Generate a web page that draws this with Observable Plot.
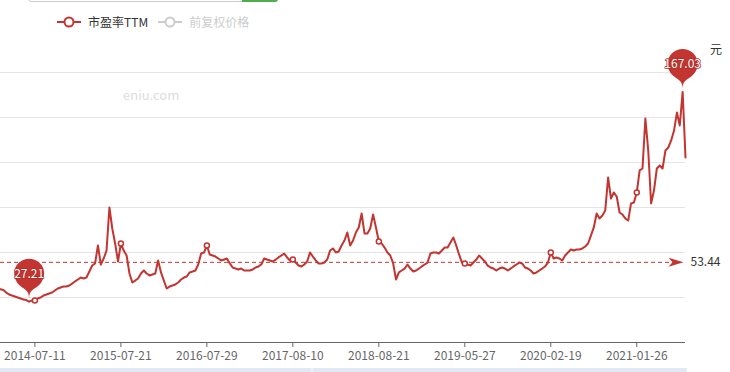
<!DOCTYPE html>
<html>
<head>
<meta charset="utf-8">
<script src="https://cdn.jsdelivr.net/npm/d3@7"></script>
<script src="https://cdn.jsdelivr.net/npm/@observablehq/plot@0.6"></script>
<style>
  body { margin: 0; background: #fff; font-family: "Microsoft YaHei", "Noto Sans CJK SC", "Noto Sans", sans-serif; }
  #wrap { position: relative; width: 730px; height: 372px; overflow: hidden; }
  #wrap > svg { position: absolute; left: 0; top: 0; overflow: visible; }
  .legend { position: absolute; left: 57px; top: 15px; height: 14px; display: flex; align-items: center; font-size: 12px; }
  .legend .item { display: flex; align-items: center; margin-right: 10px; }
  .legend .item svg { display: block; flex: none; }
  .legend .item span { margin-left: 7px; line-height: 14px; white-space: nowrap; }
  .topbox { position: absolute; left: 28px; top: -10px; width: 248px; height: 10px; border: 1px solid #ccc; border-radius: 3px; }
  .topbox .sel { position: absolute; right: -1px; top: -1px; width: 36px; height: 12px; background: #4cae4c; border-radius: 0 3px 3px 0; }
  .watermark { position: absolute; left: 123px; top: 85px; font-size: 13px; color: #ddd; }
  .unit { position: absolute; left: 710px; top: 40px; font-size: 12px; color: #333; }
  .slider { position: absolute; left: 0; top: 368px; width: 687px; height: 6px; background: #e2e8f4; }
  .slider .cut { position: absolute; left: 311px; top: 0; width: 2px; height: 6px; background: #eef2f9; }
</style>
</head>
<body>
<div id="wrap"></div>
<script>
// ---- data ----
const seriesNames = ["市盈率TTM", "前复权价格"];
const tickLabels = ["2014-07-11", "2015-07-21", "2016-07-29", "2017-08-10", "2018-08-21", "2019-05-27", "2020-02-19", "2021-01-26"];
const tickIndex = [12, 42, 72, 102, 132, 162, 192, 222];
const averagePE = [53.44];
const unitLabel = "元";
const watermarkText = "eniu.com";
const peValues = [
  35.5, 35, 33.3, 32, 31.3, 30.7, 30, 29.3, 28.7, 28.3,
  27.21, 28, 28, 29.3, 30, 31.3, 32, 32.7, 33.3, 34.7,
  36, 36.7, 37.3, 37.3, 38, 39.3, 40.7, 42, 43.3, 42.7,
  43.3, 47.3, 51.3, 52.7, 64.7, 52, 56, 61.3, 90, 76,
  66, 54, 66, 61.3, 58, 46, 40, 41.3, 42.7, 46,
  48, 46, 44.7, 45.3, 46, 54.7, 46.7, 41.3, 36, 37.3,
  38, 38.7, 40, 42, 43.3, 44, 46.7, 47.3, 48, 52,
  59.3, 60, 64.7, 58.7, 58, 57.3, 56, 54.7, 55.3, 56,
  52.7, 50, 49.3, 48.7, 49.3, 48, 48, 48, 48.7, 50,
  50.7, 52, 56, 55.3, 54.7, 54, 55.3, 56.7, 58, 59.3,
  56.7, 54.7, 55.3, 53.3, 51.3, 50.7, 52, 54, 60, 57.3,
  54.7, 52.7, 52.7, 53.3, 55.3, 61.3, 62.7, 60, 60.7, 64.7,
  68, 73.3, 64.7, 68, 73.3, 76.7, 86, 72.7, 72.7, 76,
  85.3, 76.7, 67.3, 66, 63.3, 60, 58, 52.7, 42, 46.7,
  48, 49.3, 52, 49.3, 47.3, 48, 49.3, 50.7, 52, 53.3,
  59.3, 60, 60, 59.3, 61.3, 63.3, 63.3, 66.7, 70, 64.7,
  58.7, 53.3, 52.7, 52, 51.3, 53.3, 55.3, 58, 56, 54,
  51.3, 50, 49.3, 48, 49.3, 50, 49.3, 48, 49.3, 50.7,
  52, 53.3, 52.7, 50, 49.3, 48, 46, 46.7, 48, 49.3,
  50.7, 53.3, 60, 56, 56.7, 56, 54.7, 58, 60, 62,
  61.3, 62, 62, 62.7, 64, 66, 71.3, 76.7, 86, 82.7,
  84.7, 88, 110, 96, 100, 97.3, 86.7, 85.3, 82.7, 81.3,
  92.7, 93.3, 100, 114.7, 116, 149.3, 128, 92.7, 101.3, 116,
  118, 116, 128, 130, 134.7, 141.3, 153.3, 144.7, 167.03, 123.3
];
const yGridTicks = [30, 60, 90, 120, 150, 180];

// ---- chart ----
const red = "#c23531";
const fontFamily = '"Microsoft YaHei", "Noto Sans CJK SC", "Noto Sans", sans-serif';
const data = peValues.map((v, i) => ({ i, v }));
const lastIdx = peValues.length - 1;
const extremes = [d3.minIndex(peValues), d3.maxIndex(peValues)];
const labelOf = new Map(tickIndex.map((d, k) => [d, tickLabels[k]]));

// ECharts-like "pin" balloon, tip just above the data point
const pinSymbol = {
  draw(ctx) {
    const r = 15, d = 25, tip = -3;
    const cy = tip - d;
    const dy = r * r / d;
    const a = Math.asin(dy / r);
    const dx = Math.cos(a) * r;
    const tx = Math.sin(a), ty = Math.cos(a);
    const c1 = r * 0.6, c2 = r * 0.7;
    ctx.moveTo(-dx, cy + dy);
    ctx.arc(0, cy, r, Math.PI - a, Math.PI * 2 + a);
    ctx.bezierCurveTo(dx - tx * c1, cy + dy + ty * c1, 0, tip - c2, 0, tip);
    ctx.bezierCurveTo(0, tip - c2, -dx + tx * c1, cy + dy + ty * c1, -dx, cy + dy);
    ctx.closePath();
  }
};
const arrowSymbol = {
  draw(ctx) {
    ctx.moveTo(0, 0);
    ctx.lineTo(-15, -4.5);
    ctx.lineTo(-11, 0);
    ctx.lineTo(-15, 4.5);
    ctx.closePath();
  }
};

const chart = Plot.plot({
  width: 730,
  height: 372,
  marginLeft: 0,
  marginRight: 45,
  marginTop: 72,
  marginBottom: 30,
  style: { fontFamily, fontSize: "12px", background: "transparent", overflow: "visible" },
  x: { domain: [0, lastIdx], axis: null },
  y: { domain: [0, 180], axis: null },
  marks: [
    Plot.ruleY(yGridTicks, { stroke: "#e4e4e4", strokeWidth: 1 }),
    Plot.ruleY([0], { stroke: "#666", strokeWidth: 1 }),
    Plot.axisX({
      ticks: tickIndex,
      tickFormat: d => labelOf.get(d),
      tickSize: 5,
      tickPadding: 4,
      color: "#666",
      fontSize: 12,
      fontFamily,
      label: null
    }),
    Plot.ruleY(averagePE, { x1: 0, x2: lastIdx - 3, stroke: red, strokeWidth: 1, strokeDasharray: "4,3" }),
    Plot.dot(averagePE, { x: () => lastIdx, y: d => d, dx: -2, symbol: arrowSymbol, fill: red, stroke: null }),
    Plot.text(averagePE, { x: () => lastIdx, y: d => d, text: d => d.toFixed(2), dx: 5, textAnchor: "start", fill: "#333", fontSize: 12, fontFamily }),
    Plot.line(data, { x: "i", y: "v", stroke: red, strokeWidth: 2, strokeLinejoin: "round" }),
    Plot.dot(tickIndex, { x: d => d, y: d => peValues[d], r: 2.5, fill: "white", stroke: red, strokeWidth: 1.5 }),
    Plot.dot(extremes, { x: d => d, y: d => peValues[d], symbol: pinSymbol, fill: red, stroke: null }),
    Plot.text(extremes, { x: d => d, y: d => peValues[d], text: d => peValues[d].toFixed(2), dy: -28, fill: "white", stroke: "#a82d29", strokeWidth: 1.5, fontSize: 12, fontFamily })
  ]
});

const wrap = document.getElementById("wrap");
wrap.appendChild(chart);

// decorations
const topbox = document.createElement("div");
topbox.className = "topbox";
topbox.innerHTML = '<div class="sel"></div>';
wrap.appendChild(topbox);

const wm = document.createElement("div");
wm.className = "watermark";
wm.textContent = watermarkText;
wrap.appendChild(wm);

const unit = document.createElement("div");
unit.className = "unit";
unit.textContent = unitLabel;
wrap.appendChild(unit);

const slider = document.createElement("div");
slider.className = "slider";
slider.innerHTML = '<div class="cut"></div>';
wrap.appendChild(slider);

// legend
const legend = document.createElement("div");
legend.className = "legend";
const legendColors = [red, "#ccc"];
seriesNames.forEach((name, k) => {
  const c = legendColors[k];
  const item = document.createElement("div");
  item.className = "item";
  item.innerHTML =
    `<svg width="24" height="14"><line x1="0" x2="24" y1="7" y2="7" stroke="${c}" stroke-width="2"/>` +
    `<circle cx="12" cy="7" r="4.5" fill="#fff" stroke="${c}" stroke-width="2"/></svg>` +
    `<span style="color:${k === 0 ? "#333" : "#ccc"}">${name}</span>`;
  legend.appendChild(item);
});
wrap.appendChild(legend);
</script>
</body>
</html>
